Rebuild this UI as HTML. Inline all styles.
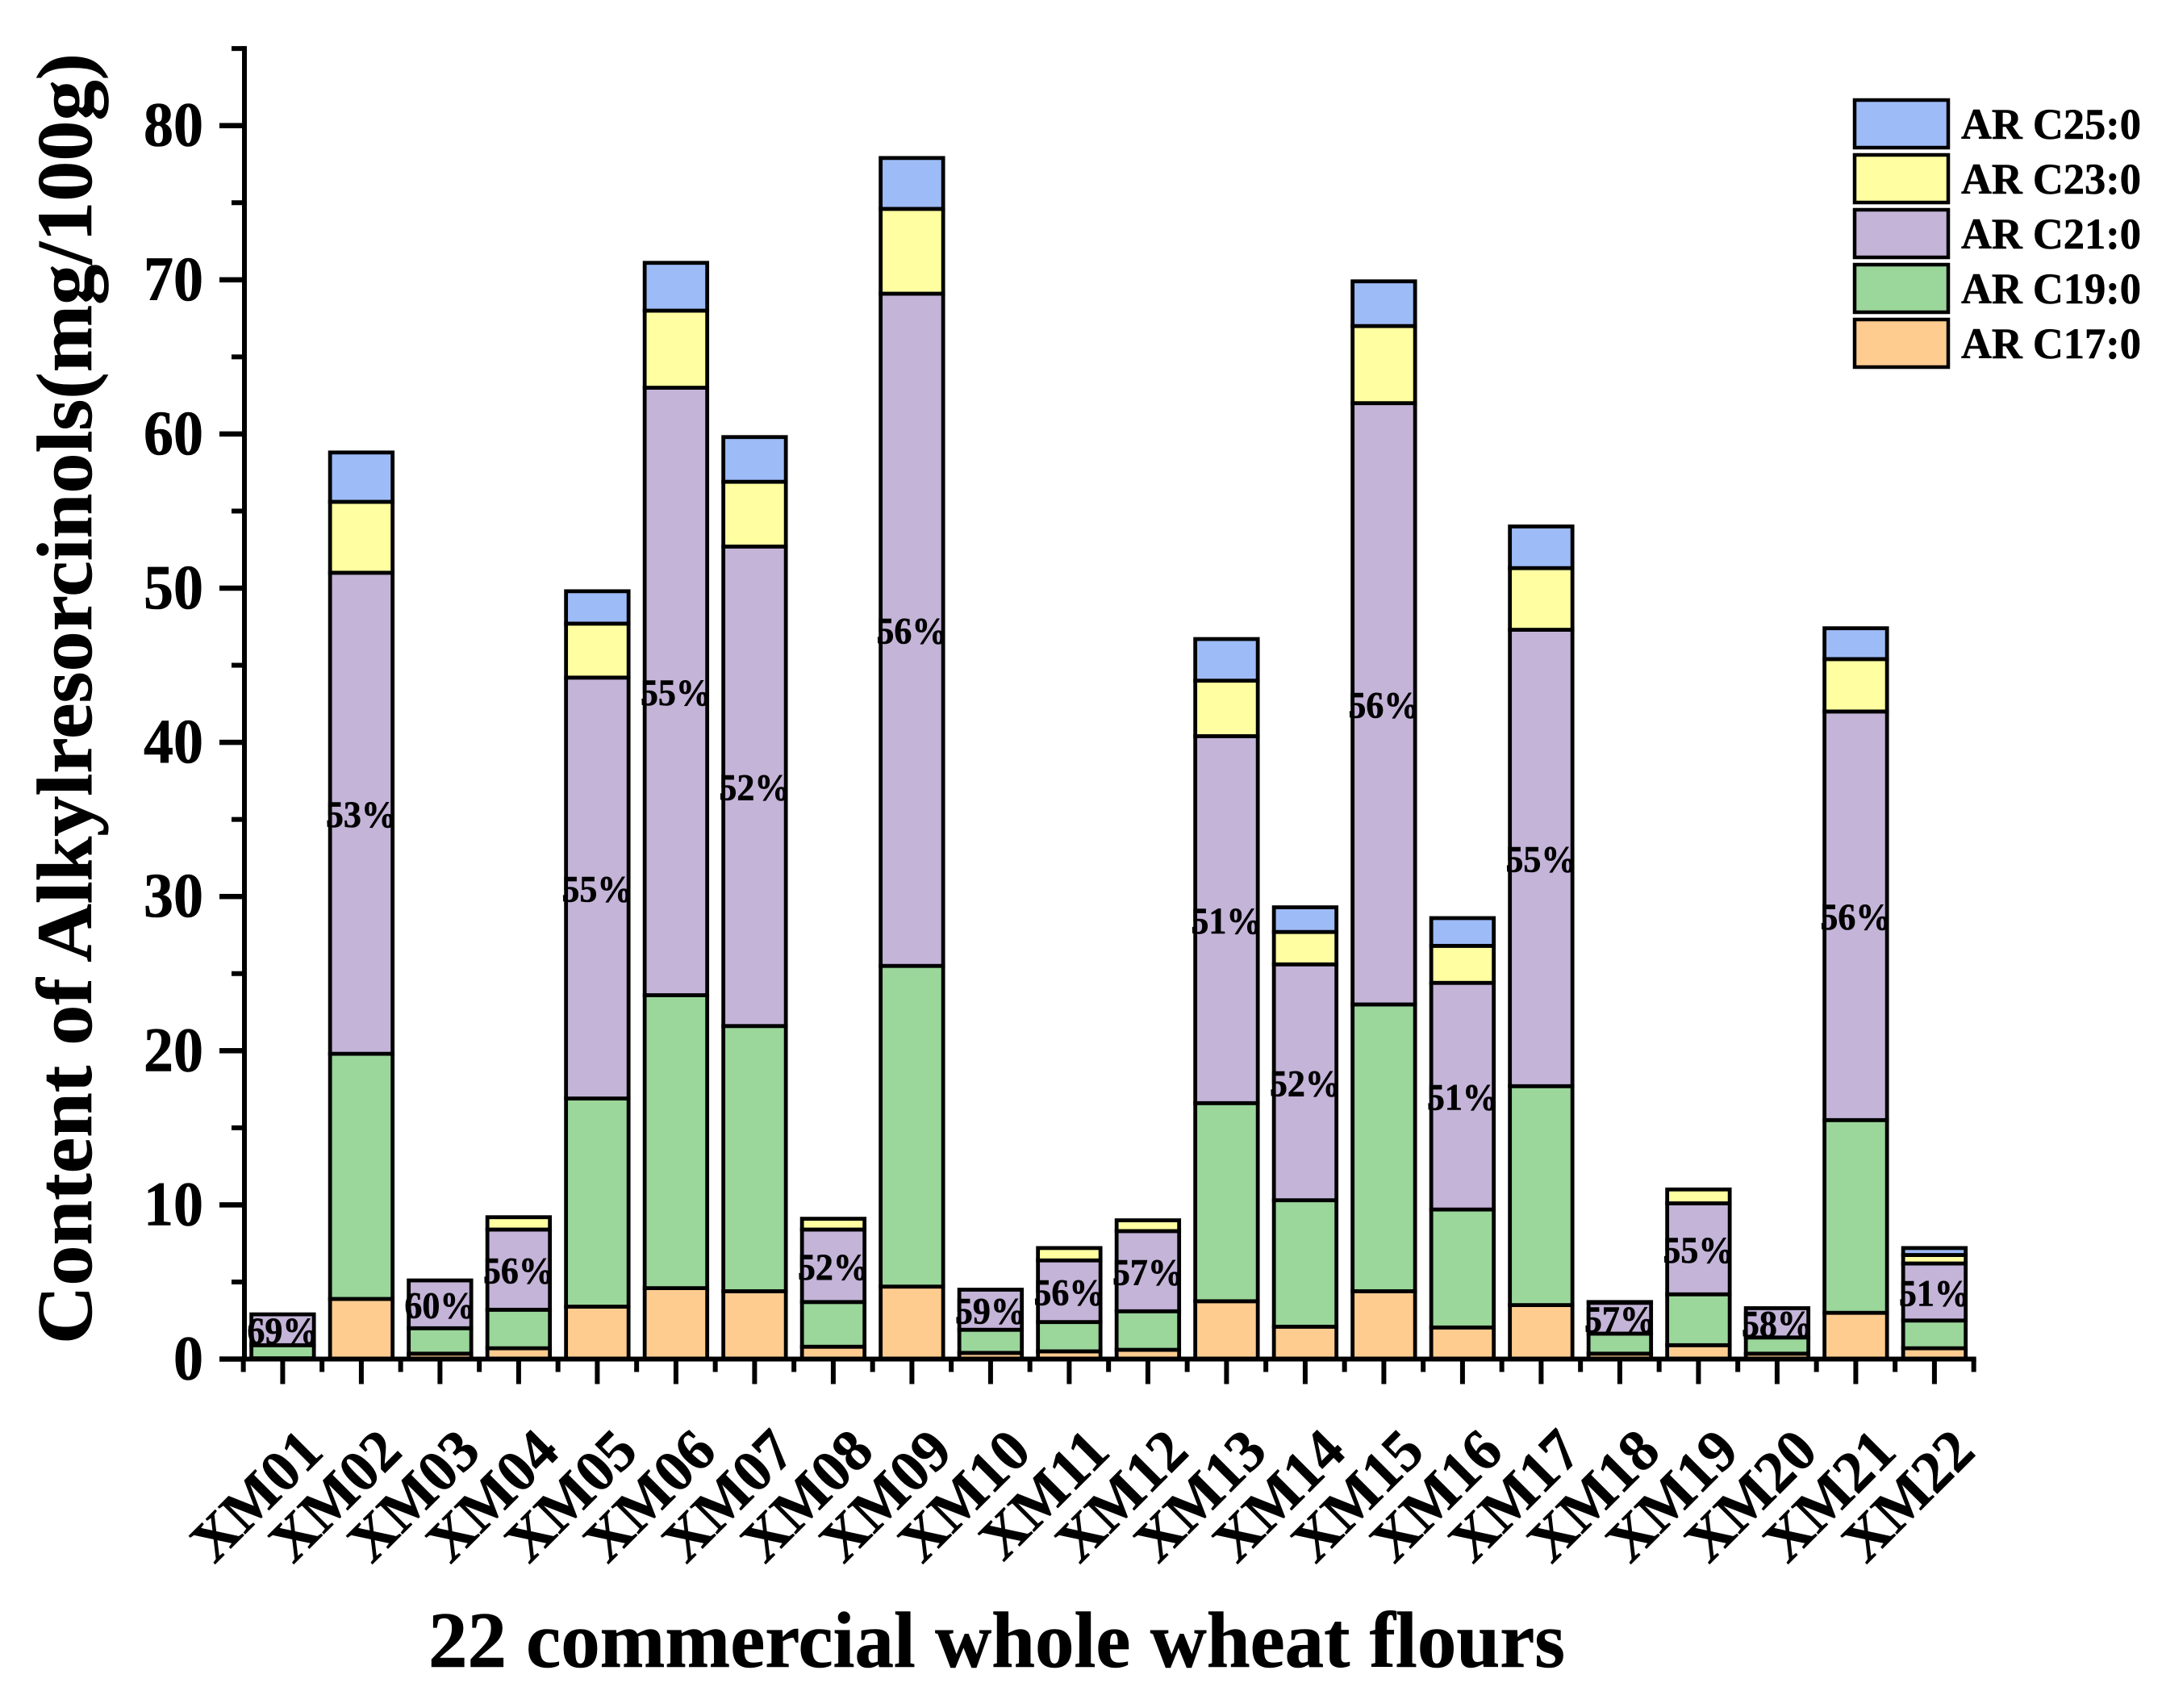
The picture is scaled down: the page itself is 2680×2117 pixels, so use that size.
<!DOCTYPE html>
<html lang="en">
<head>
<meta charset="utf-8">
<title>Content of Alkylresorcinols in 22 commercial whole wheat flours</title>
<style>
html,body{margin:0;padding:0;background:#fff;}
svg{display:block;}
text{font-family:"Liberation Serif",serif;font-weight:bold;fill:#000;stroke:#000;stroke-width:0.6;}
</style>
</head>
<body>
<svg id="chart" xmlns="http://www.w3.org/2000/svg" width="2680" height="2117" viewBox="0 0 2680 2117">
  <rect x="0" y="0" width="2680" height="2117" fill="#ffffff"/>
  <g id="bars"></g>
  <g id="pct-labels"></g>
  <g id="axes"></g>
  <text transform="translate(113,1666) rotate(-90)" font-size="98" textLength="1600" lengthAdjust="spacingAndGlyphs">Content of Alkylresorcinols(mg/100g)</text>
  <text x="531" y="2066" font-size="99" textLength="1409" lengthAdjust="spacingAndGlyphs">22 commercial whole wheat flours</text>
  <g id="legend">
    <rect x="2299" y="124" width="116" height="59" fill="#9DBBF7" stroke="#000" stroke-width="4.5"/>
    <text x="2431" y="172" font-size="54" textLength="223" lengthAdjust="spacingAndGlyphs">AR C25:0</text>
    <rect x="2299" y="192" width="116" height="59" fill="#FFFFA1" stroke="#000" stroke-width="4.5"/>
    <text x="2431" y="240" font-size="54" textLength="223" lengthAdjust="spacingAndGlyphs">AR C23:0</text>
    <rect x="2299" y="260" width="116" height="59" fill="#C4B4D8" stroke="#000" stroke-width="4.5"/>
    <text x="2431" y="308" font-size="54" textLength="223" lengthAdjust="spacingAndGlyphs">AR C21:0</text>
    <rect x="2299" y="328" width="116" height="59" fill="#9BD69B" stroke="#000" stroke-width="4.5"/>
    <text x="2431" y="376" font-size="54" textLength="223" lengthAdjust="spacingAndGlyphs">AR C19:0</text>
    <rect x="2299" y="396" width="116" height="59" fill="#FFCC90" stroke="#000" stroke-width="4.5"/>
    <text x="2431" y="444" font-size="54" textLength="223" lengthAdjust="spacingAndGlyphs">AR C17:0</text>
  </g>
</svg>
<script>
const categories = ["XM01","XM02","XM03","XM04","XM05","XM06","XM07","XM08","XM09","XM10","XM11","XM12","XM13","XM14","XM15","XM16","XM17","XM18","XM19","XM20","XM21","XM22"];
const arC17 = [0.05,3.9,0.35,0.7,3.4,4.6,4.4,0.8,4.7,0.4,0.5,0.6,3.75,2.1,4.4,2.05,3.5,0.35,0.9,0.35,3,0.7];
const arC19 = [0.85,15.9,1.65,2.5,13.5,19,17.2,2.9,20.8,1.5,1.9,2.5,12.85,8.2,18.6,7.65,14.2,1.3,3.3,1.05,12.5,1.8];
const arC21 = [2,31.2,3.1,5.2,27.3,39.4,31.1,4.7,43.6,2.6,4,5.2,23.8,15.3,39,14.7,29.6,2,5.9,1.9,26.5,3.7];
const arC23 = [0,4.6,0,0.8,3.5,5,4.2,0.7,5.5,0,0.8,0.7,3.6,2.1,5,2.4,4,0,0.9,0,3.4,0.55];
const arC25 = [0,3.2,0,0,2.1,3.1,2.9,0,3.3,0,0,0,2.7,1.6,2.9,1.8,2.7,0.05,0,0,2,0.45];
const pctLabels = ["69%","53%","60%","56%","55%","55%","52%","52%","56%","59%","56%","57%","51%","52%","56%","51%","55%","57%","55%","58%","56%","51%"];
const yMajorTicks = [0,10,20,30,40,50,60,70,80];
const yMinorTicks = [5,15,25,35,45,55,65,75,85];

const NS = "http://www.w3.org/2000/svg";
const seriesList = [
  {key:"c17", values:arC17, fill:"#FFCC90"},
  {key:"c19", values:arC19, fill:"#9BD69B"},
  {key:"c21", values:arC21, fill:"#C4B4D8"},
  {key:"c23", values:arC23, fill:"#FFFFA1"},
  {key:"c25", values:arC25, fill:"#9DBBF7"}
];
const Y0 = 1684.5, PX_PER_UNIT = 19.11;
const X0 = 350.4, BAND = 97.5, BAR_W = 77.5;
function yScale(v){ return Y0 - v * PX_PER_UNIT; }
function xScale(i){ return X0 + i * BAND; }
function mk(tag, attrs, parent){
  const el = document.createElementNS(NS, tag);
  for (const k in attrs) el.setAttribute(k, attrs[k]);
  parent.appendChild(el);
  return el;
}
const barsG = document.getElementById("bars");
const pctG = document.getElementById("pct-labels");
const axesG = document.getElementById("axes");

categories.forEach(function(cat, i){
  let base = 0;
  seriesList.forEach(function(s){
    const v = s.values[i];
    const rect = mk("rect", {
      x: xScale(i) - BAR_W / 2, y: yScale(base + v), width: BAR_W, height: v * PX_PER_UNIT,
      fill: s.fill, stroke: "#000", "stroke-width": 4.8
    }, barsG);
    
    
    base += v;
  });
  const midC21 = arC17[i] + arC19[i] + arC21[i] / 2;
  const label = mk("text", {
    x: xScale(i), y: yScale(midC21) + 17, "font-size": 47, "text-anchor": "middle",
    textLength: 88, lengthAdjust: "spacingAndGlyphs"
  }, pctG);
  
  
  label.textContent = pctLabels[i];

  const tick = mk("rect", {x: xScale(i) - 3, y: Y0, width: 6, height: 31, fill: "#000"}, axesG);
  
  

  const tl = mk("text", {
    transform: "translate(" + (xScale(i) + 53) + ",1802) rotate(-45)",
    "font-size": 73, "text-anchor": "end"
  }, axesG);
  
  
  tl.textContent = cat;
});

for (let i = 0; i <= categories.length; i++) {
  const minor = mk("rect", {x: xScale(i) - BAND / 2 - 3, y: Y0, width: 6, height: 16, fill: "#000"}, axesG);
  
  
}

yMajorTicks.forEach(function(v){
  const t = mk("rect", {x: 272, y: yScale(v) - 3.25, width: 31, height: 6.5, fill: "#000"}, axesG);
  
  
  const str = String(v);
  const lb = mk("text", {
    x: 252, y: yScale(v) + 25, "font-size": 78, "text-anchor": "end",
    textLength: str.length * 37, lengthAdjust: "spacingAndGlyphs"
  }, axesG);
  
  
  lb.textContent = str;
});
yMinorTicks.forEach(function(v){
  const t = mk("rect", {x: 287, y: yScale(v) - 3, width: 16, height: 6, fill: "#000"}, axesG);
  
  
});

const yAxis = mk("rect", {x: 300, y: yScale(85) - 3, width: 6, height: Y0 - yScale(85) + 6, fill: "#000"}, axesG);


const xAxis = mk("rect", {x: 300, y: Y0 - 3, width: xScale(categories.length) - BAND / 2 + 3 - 300, height: 6, fill: "#000"}, axesG);


</script>
</body>
</html>
